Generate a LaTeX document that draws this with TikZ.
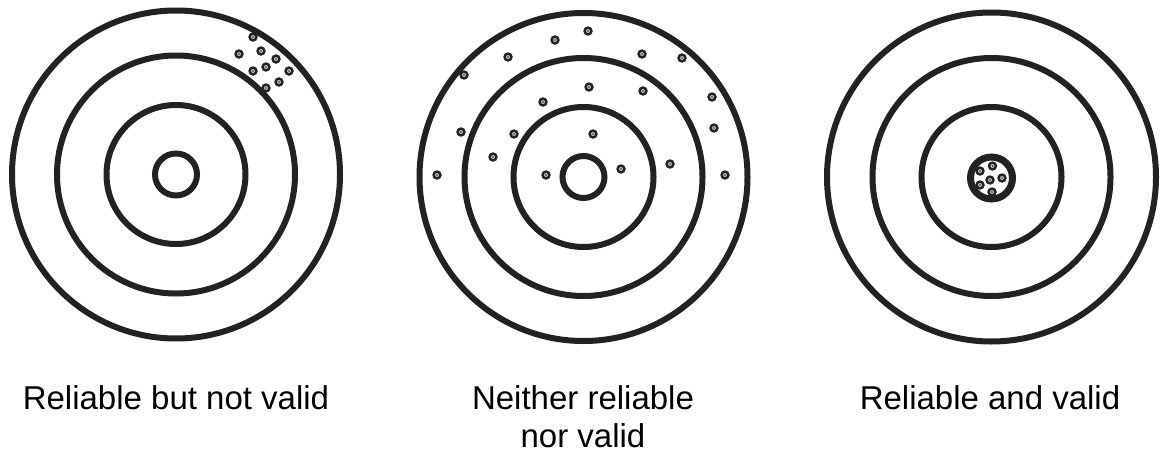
\documentclass[tikz,border=0pt]{standalone}
\usepackage{fontspec}
\setmainfont{Liberation Sans}
\definecolor{ink}{HTML}{222222}
\begin{document}
\begin{tikzpicture}[x=1pt,y=-1pt,
  ring/.style={draw=ink, line width=6pt},
  shot/.style={circle, fill=ink, minimum size=9.5pt, inner sep=0pt,
    path picture={\fill[gray!45] (path picture bounding box.center) circle (2pt);
                  \fill[ink] (path picture bounding box.center) circle (0.9pt);}},
  lbl/.style={font=\fontsize{33}{38}\selectfont, text=black, inner sep=0pt, align=center, anchor=base}]
\useasboundingbox[fill=white] (0,0) rectangle (1162,458);
% target 1
\foreach \r in {164,119,69.5,21}{\draw[ring] (176,174.5) circle (\r);}
% target 2
\foreach \r in {164,119,70,21}{\draw[ring] (583.5,177) circle (\r);}
% target 3
\foreach \r in {164.5,119,70}{\draw[ring] (991.5,177) circle (\r);}
\draw[draw=ink, line width=7pt] (991.5,178) circle (21);
% shots target 1
\node[shot] (a1) at (253,37) {};
\node[shot] (a2) at (239,54) {};
\node[shot] (a3) at (261,51) {};
\node[shot] (a4) at (276,59) {};
\node[shot] (a5) at (266,67) {};
\node[shot] (a6) at (253,71) {};
\node[shot] (a7) at (289,71) {};
\node[shot] (a8) at (279,82) {};
\node[shot] (a9) at (266,88) {};
% shots target 2
\node[shot] (b1) at (588,31) {};
\node[shot] (b2) at (555,40) {};
\node[shot] (b3) at (508,57) {};
\node[shot] (b4) at (642,54) {};
\node[shot] (b5) at (682,58) {};
\node[shot] (b6) at (464,75) {};
\node[shot] (b7) at (589,87) {};
\node[shot] (b8) at (643,91) {};
\node[shot] (b9) at (543,102) {};
\node[shot] (b10) at (712,97) {};
\node[shot] (b11) at (461,132) {};
\node[shot] (b12) at (514,134) {};
\node[shot] (b13) at (593,134) {};
\node[shot] (b14) at (714,128) {};
\node[shot] (b15) at (493,157) {};
\node[shot] (b16) at (670,164) {};
\node[shot] (b17) at (437,175) {};
\node[shot] (b18) at (546,175) {};
\node[shot] (b19) at (621,169) {};
\node[shot] (b20) at (725,175) {};
% shots target 3
\node[shot] (c1) at (992.5,166) {};
\node[shot] (c2) at (980,171) {};
\node[shot] (c3) at (990,180) {};
\node[shot] (c4) at (1002,178) {};
\node[shot] (c5) at (980,185) {};
\node[shot] (c6) at (992,192) {};
% labels
\node[lbl] (l1) at (176,409) {Reliable but not valid};
\node[lbl] (l2) at (583,447) {Neither reliable\\nor valid};
\node[lbl] (l3) at (990,409) {Reliable and valid};
\end{tikzpicture}
\end{document}
